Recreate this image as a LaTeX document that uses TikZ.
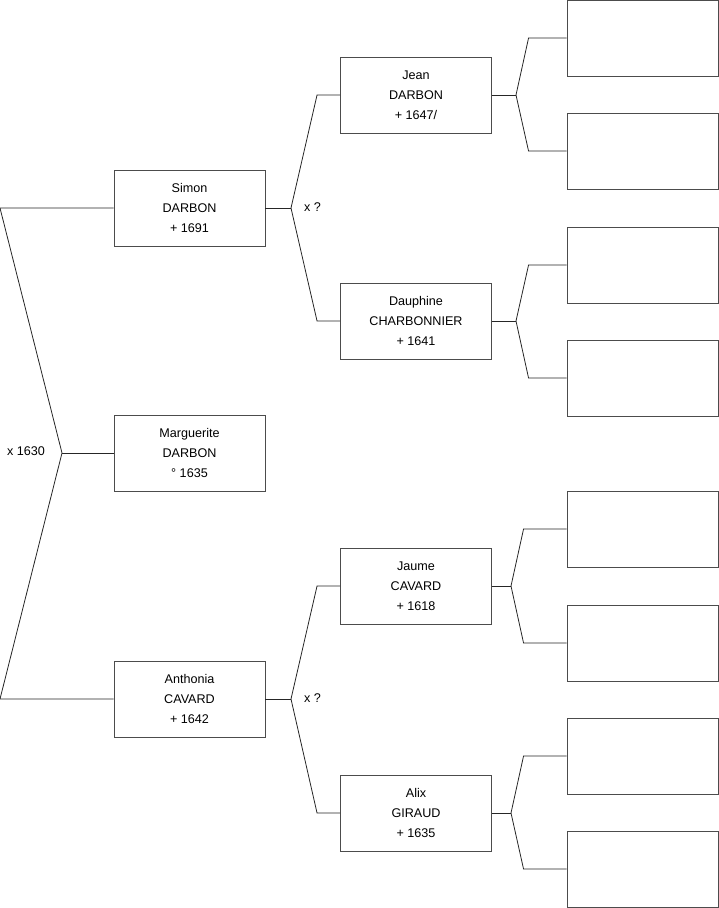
\documentclass[tikz,border=0pt]{standalone}
\usepackage{fontspec}
\setmainfont{Liberation Sans}

\begin{document}
\begin{tikzpicture}[x=1pt,y=-1pt,
  person/.style={draw=black!70,line width=0.9pt,minimum width=151pt,minimum height=76pt,
    inner sep=0pt,align=center,font=\fontsize{12.6}{20}\selectfont},
  link/.style={draw=black!85,line width=0.8pt},
  wedlabel/.style={inner sep=0pt,font=\fontsize{12.6}{14}\selectfont}]
  \useasboundingbox (0,0) rectangle (719,908);

  % generation 1
  \node[person] (marguerite) at (189.5,453) {Marguerite\\DARBON\\° 1635};

  % generation 2
  \node[person] (simon) at (189.5,208) {Simon\\DARBON\\+ 1691};
  \node[person] (anthonia) at (189.5,699) {Anthonia\\CAVARD\\+ 1642};

  % generation 3
  \node[person] (jean) at (416,95) {Jean\\DARBON\\+ 1647/};
  \node[person] (dauphine) at (416,321) {Dauphine\\CHARBONNIER\\+ 1641};
  \node[person] (jaume) at (416,586) {Jaume\\CAVARD\\+ 1618};
  \node[person] (alix) at (416,813) {Alix\\GIRAUD\\+ 1635};

  % generation 4 (empty)
  \node[person] (e1) at (642.5,38) {};
  \node[person] (e2) at (642.5,151) {};
  \node[person] (e3) at (642.5,265) {};
  \node[person] (e4) at (642.5,378) {};
  \node[person] (e5) at (642.5,529) {};
  \node[person] (e6) at (642.5,643) {};
  \node[person] (e7) at (642.5,756) {};
  \node[person] (e8) at (642.5,869) {};

  % parents of Marguerite
  \coordinate (top0) at (0,208);
  \coordinate (bot0) at (0,699);
  \coordinate (fork0) at (62,453);
  \draw[link] (simon.west) -- (top0) -- (fork0) -- (bot0) -- (anthonia.west);
  \draw[link] (fork0) -- (marguerite.west);
  \node[wedlabel] (wed0) at (26,451) {x 1630};

  % parents of Simon
  \coordinate (fork1) at (291,208);
  \draw[link] (simon.east) -- (fork1);
  \draw[link] (fork1) -- ([xshift=-23pt]jean.west) -- (jean.west);
  \draw[link] (fork1) -- ([xshift=-23pt]dauphine.west) -- (dauphine.west);
  \node[wedlabel,anchor=west] (wed1) at (304,207) {x ?};

  % parents of Anthonia
  \coordinate (fork2) at (291,699);
  \draw[link] (anthonia.east) -- (fork2);
  \draw[link] (fork2) -- ([xshift=-23pt]jaume.west) -- (jaume.west);
  \draw[link] (fork2) -- ([xshift=-23pt]alix.west) -- (alix.west);
  \node[wedlabel,anchor=west] (wed2) at (304,698) {x ?};

  % parents of Jean
  \coordinate (fork3) at (516,95);
  \draw[link] (jean.east) -- (fork3);
  \draw[link] (fork3) -- ([xshift=-38pt]e1.west) -- (e1.west);
  \draw[link] (fork3) -- ([xshift=-38pt]e2.west) -- (e2.west);

  % parents of Dauphine
  \coordinate (fork4) at (516,321);
  \draw[link] (dauphine.east) -- (fork4);
  \draw[link] (fork4) -- ([xshift=-38pt]e3.west) -- (e3.west);
  \draw[link] (fork4) -- ([xshift=-38pt]e4.west) -- (e4.west);

  % parents of Jaume
  \coordinate (fork5) at (511,586);
  \draw[link] (jaume.east) -- (fork5);
  \draw[link] (fork5) -- ([xshift=-43pt]e5.west) -- (e5.west);
  \draw[link] (fork5) -- ([xshift=-43pt]e6.west) -- (e6.west);

  % parents of Alix
  \coordinate (fork6) at (511,813);
  \draw[link] (alix.east) -- (fork6);
  \draw[link] (fork6) -- ([xshift=-43pt]e7.west) -- (e7.west);
  \draw[link] (fork6) -- ([xshift=-43pt]e8.west) -- (e8.west);
\end{tikzpicture}
\end{document}
